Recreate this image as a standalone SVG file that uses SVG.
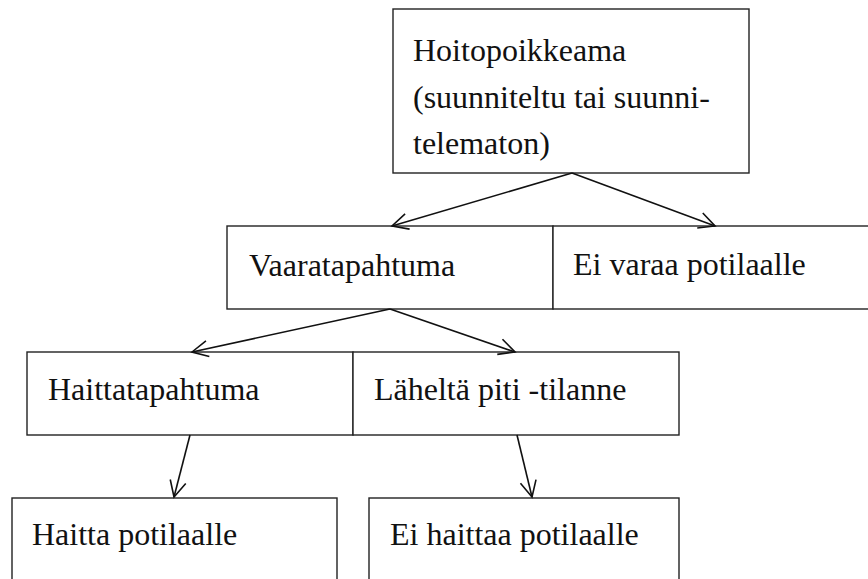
<svg xmlns="http://www.w3.org/2000/svg" width="868" height="579" viewBox="0 0 868 579">
  <style>
    .box { fill: #ffffff; stroke: #222222; stroke-width: 1.4; }
    .lbl { font-family: 'Liberation Serif', 'Times New Roman', serif; font-size: 32px; fill: #111111; }
    .conn { fill: none; stroke: #111111; stroke-width: 1.6; marker-end: url(#arrow); }
  </style>
  <defs>
    <marker id="arrow" markerUnits="userSpaceOnUse" markerWidth="40" markerHeight="40" viewBox="-20 -20 40 40" refX="0" refY="0" orient="auto">
      <path d="M-16,-8 L0,0 L-16,8" fill="none" stroke="#111111" stroke-width="1.6"/>
    </marker>
  </defs>
  <rect width="868" height="579" fill="#ffffff"/>

  <g id="node-hoitopoikkeama">
    <rect class="box" x="393" y="9" width="356" height="164"/>
    <text class="lbl" x="413" y="61">Hoitopoikkeama</text>
    <text class="lbl" x="413" y="107.5">(suunniteltu tai suunni-</text>
    <text class="lbl" x="413" y="154">telematon)</text>
  </g>

  <g id="node-vaaratapahtuma">
    <rect class="box" x="227" y="226" width="326" height="83"/>
    <text class="lbl" x="249" y="276">Vaaratapahtuma</text>
  </g>

  <g id="node-ei-varaa">
    <rect class="box" x="553" y="226" width="330" height="83"/>
    <text class="lbl" x="573" y="275">Ei varaa potilaalle</text>
  </g>

  <g id="node-haittatapahtuma">
    <rect class="box" x="27" y="352" width="326" height="83"/>
    <text class="lbl" x="48" y="400">Haittatapahtuma</text>
  </g>

  <g id="node-laheltapiti">
    <rect class="box" x="353" y="352" width="326" height="83"/>
    <text class="lbl" x="374" y="400">Läheltä piti -tilanne</text>
  </g>

  <g id="node-haitta">
    <rect class="box" x="12" y="498" width="325" height="100"/>
    <text class="lbl" x="32" y="545">Haitta potilaalle</text>
  </g>

  <g id="node-ei-haittaa">
    <rect class="box" x="369" y="498" width="310" height="100"/>
    <text class="lbl" x="390" y="545">Ei haittaa potilaalle</text>
  </g>

  <g id="connectors">
    <line class="conn" x1="572" y1="173" x2="392" y2="226"/>
    <line class="conn" x1="572" y1="173" x2="715" y2="226"/>
    <line class="conn" x1="390" y1="309" x2="192" y2="352"/>
    <line class="conn" x1="390" y1="309" x2="515" y2="352"/>
    <line class="conn" x1="190" y1="435" x2="174" y2="497"/>
    <line class="conn" x1="517" y1="435" x2="532" y2="497"/>
  </g>
</svg>
